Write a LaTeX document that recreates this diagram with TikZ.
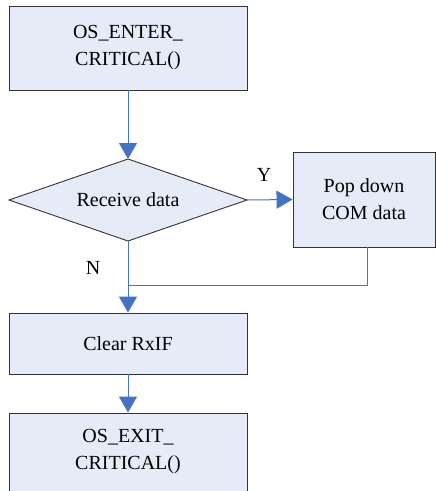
\documentclass[tikz,border=0pt]{standalone}
\usepackage{fontspec}
\setmainfont{Liberation Serif}
\usetikzlibrary{shapes.geometric,arrows.meta}
\definecolor{boxfill}{HTML}{E6ECF7}
\definecolor{flow}{HTML}{4472C4}
\begin{document}
\begin{tikzpicture}[x=1pt,y=-1pt,
  every node/.style={font=\fontsize{20}{27}\selectfont},
  procbox/.style={draw=black!80,line width=0.9pt,fill=boxfill,align=center,inner sep=0pt},
  flowline/.style={draw=flow,line width=1pt},
  flowarrow/.style={flowline,-{Triangle[length=16pt,width=18pt]}}]
\useasboundingbox (0,0) rectangle (436,491);
% process boxes
\node[procbox,minimum width=238pt,minimum height=84pt] (enter) at (128,48) {OS\_ENTER\_\\CRITICAL()};
\node[procbox,minimum width=142pt,minimum height=95pt] (pop) at (364,199.5) {Pop down\\COM data};
\node[procbox,minimum width=238pt,minimum height=61pt] (clear) at (128,343.5) {Clear RxIF};
\node[procbox,minimum width=238pt,minimum height=78pt] (exit) at (128,452) {OS\_EXIT\_\\CRITICAL()};
% decision
\path[draw=black!80,line width=0.9pt,fill=boxfill]
  (9,200) coordinate (dl) -- (128,159) coordinate (dt) -- (247,200) coordinate (dr) -- (128,241) coordinate (db) -- cycle;
\node (recv) at (128,200) {Receive data};
% connectors
\draw[flowarrow] (enter.south) -- (dt);
\draw[flowarrow] (dr) -- (pop.west);
\coordinate (join) at (128,285);
\draw[flowline] (pop.south -| 367,0) |- (join);
\draw[flowarrow] (db) -- (clear.north);
\draw[flowarrow] (clear.south) -- (exit.north);
% branch labels
\node (ylab) at (264,175) {Y};
\node (nlab) at (93,268) {N};
\end{tikzpicture}
\end{document}
